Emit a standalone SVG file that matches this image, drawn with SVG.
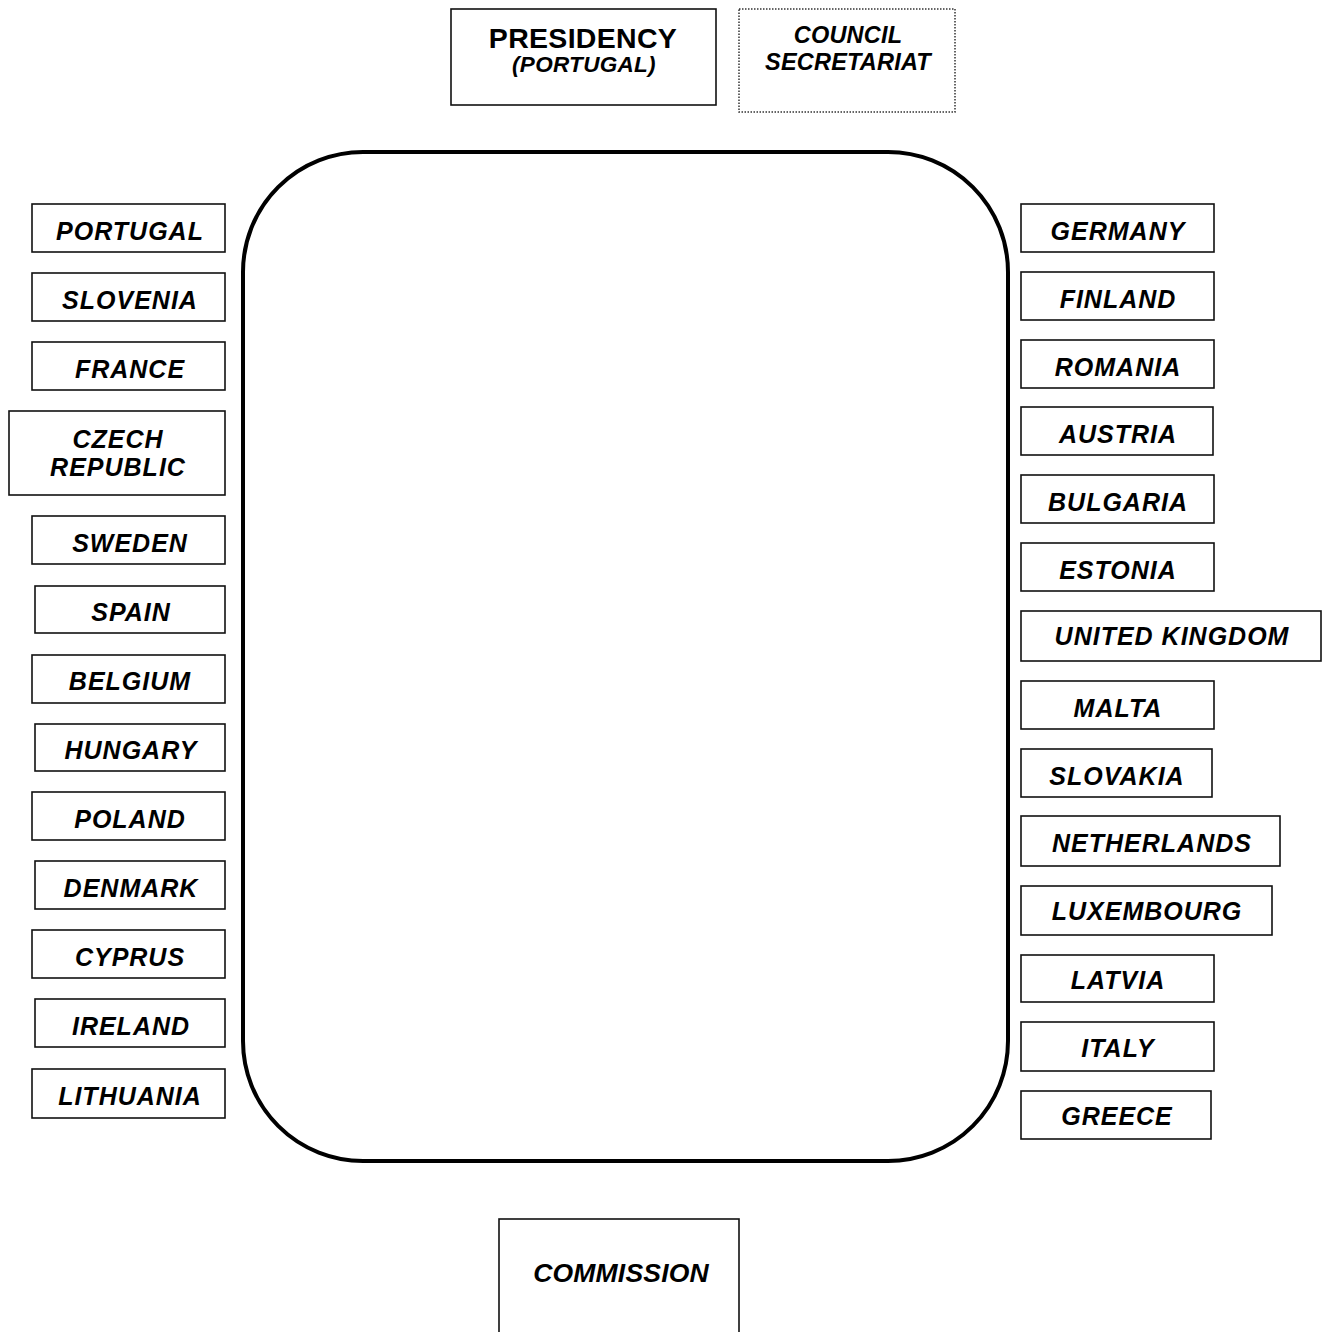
<svg xmlns="http://www.w3.org/2000/svg" width="1330" height="1332" viewBox="0 0 1330 1332">
<style>
.b{fill:#fff;stroke:#111;stroke-width:1.6}
.t{font-family:"Liberation Sans",Arial,sans-serif;font-weight:bold;font-style:italic;font-size:25px;letter-spacing:1px;text-anchor:middle;fill:#000}
</style>
<rect width="1330" height="1332" fill="#fff"/>
<g id="table"><rect x="243" y="152" width="765" height="1009" rx="120" ry="120" fill="none" stroke="#000" stroke-width="4"/></g>
<g id="presidency"><rect class="b" x="451" y="9" width="265" height="96"/>
<text x="583" y="48" style="font-family:'Liberation Sans',Arial,sans-serif;font-weight:bold;font-size:28.5px;text-anchor:middle;letter-spacing:0.3px">PRESIDENCY</text>
<text x="584" y="72" class="t" style="font-size:22.5px;letter-spacing:0.3px">(PORTUGAL)</text></g>
<g id="secretariat"><rect x="739" y="9" width="216" height="103" fill="#fff" stroke="#333" stroke-width="1.5" stroke-dasharray="1.5,1.5"/>
<text x="848" y="43" class="t" style="font-size:23.5px;letter-spacing:0.2px">COUNCIL</text>
<text x="848" y="70" class="t" style="font-size:23.5px;letter-spacing:0.2px">SECRETARIAT</text></g>
<g id="commission"><rect class="b" x="499" y="1219" width="240" height="120"/>
<text x="621" y="1282" class="t" style="font-size:26.5px;letter-spacing:0.2px">COMMISSION</text></g>
<g id="portugal"><rect class="b" x="32" y="204" width="193" height="48"/><text class="t" x="130" y="240">PORTUGAL</text></g>
<g id="slovenia"><rect class="b" x="32" y="273" width="193" height="48"/><text class="t" x="130" y="309">SLOVENIA</text></g>
<g id="france"><rect class="b" x="32" y="342" width="193" height="48"/><text class="t" x="130" y="378">FRANCE</text></g>
<g id="czech"><rect class="b" x="9" y="411" width="216" height="84"/><text class="t" x="118" y="448">CZECH</text><text class="t" x="118" y="476">REPUBLIC</text></g>
<g id="sweden"><rect class="b" x="32" y="516" width="193" height="48"/><text class="t" x="130" y="552">SWEDEN</text></g>
<g id="spain"><rect class="b" x="35" y="586" width="190" height="47"/><text class="t" x="131" y="621">SPAIN</text></g>
<g id="belgium"><rect class="b" x="32" y="655" width="193" height="48"/><text class="t" x="130" y="690">BELGIUM</text></g>
<g id="hungary"><rect class="b" x="35" y="724" width="190" height="47"/><text class="t" x="131" y="759">HUNGARY</text></g>
<g id="poland"><rect class="b" x="32" y="792" width="193" height="48"/><text class="t" x="130" y="828">POLAND</text></g>
<g id="denmark"><rect class="b" x="35" y="861" width="190" height="48"/><text class="t" x="131" y="897">DENMARK</text></g>
<g id="cyprus"><rect class="b" x="32" y="930" width="193" height="48"/><text class="t" x="130" y="966">CYPRUS</text></g>
<g id="ireland"><rect class="b" x="35" y="999" width="190" height="48"/><text class="t" x="131" y="1035">IRELAND</text></g>
<g id="lithuania"><rect class="b" x="32" y="1069" width="193" height="49"/><text class="t" x="130" y="1105">LITHUANIA</text></g>
<g id="germany"><rect class="b" x="1021" y="204" width="193" height="48"/><text class="t" x="1118" y="240">GERMANY</text></g>
<g id="finland"><rect class="b" x="1021" y="272" width="193" height="48"/><text class="t" x="1118" y="308">FINLAND</text></g>
<g id="romania"><rect class="b" x="1021" y="340" width="193" height="48"/><text class="t" x="1118" y="376">ROMANIA</text></g>
<g id="austria"><rect class="b" x="1021" y="407" width="192" height="48"/><text class="t" x="1118" y="443">AUSTRIA</text></g>
<g id="bulgaria"><rect class="b" x="1021" y="475" width="193" height="48"/><text class="t" x="1118" y="511">BULGARIA</text></g>
<g id="estonia"><rect class="b" x="1021" y="543" width="193" height="48"/><text class="t" x="1118" y="579">ESTONIA</text></g>
<g id="uk"><rect class="b" x="1021" y="611" width="300" height="50"/><text class="t" x="1172" y="645">UNITED KINGDOM</text></g>
<g id="malta"><rect class="b" x="1021" y="681" width="193" height="48"/><text class="t" x="1118" y="717">MALTA</text></g>
<g id="slovakia"><rect class="b" x="1021" y="749" width="191" height="48"/><text class="t" x="1117" y="785">SLOVAKIA</text></g>
<g id="netherlands"><rect class="b" x="1021" y="816" width="259" height="50"/><text class="t" x="1152" y="852">NETHERLANDS</text></g>
<g id="luxembourg"><rect class="b" x="1021" y="886" width="251" height="49"/><text class="t" x="1147" y="920">LUXEMBOURG</text></g>
<g id="latvia"><rect class="b" x="1021" y="955" width="193" height="47"/><text class="t" x="1118" y="989">LATVIA</text></g>
<g id="italy"><rect class="b" x="1021" y="1022" width="193" height="49"/><text class="t" x="1118" y="1057">ITALY</text></g>
<g id="greece"><rect class="b" x="1021" y="1091" width="190" height="48"/><text class="t" x="1117" y="1125">GREECE</text></g>
<g id="connectors"></g>
</svg>
